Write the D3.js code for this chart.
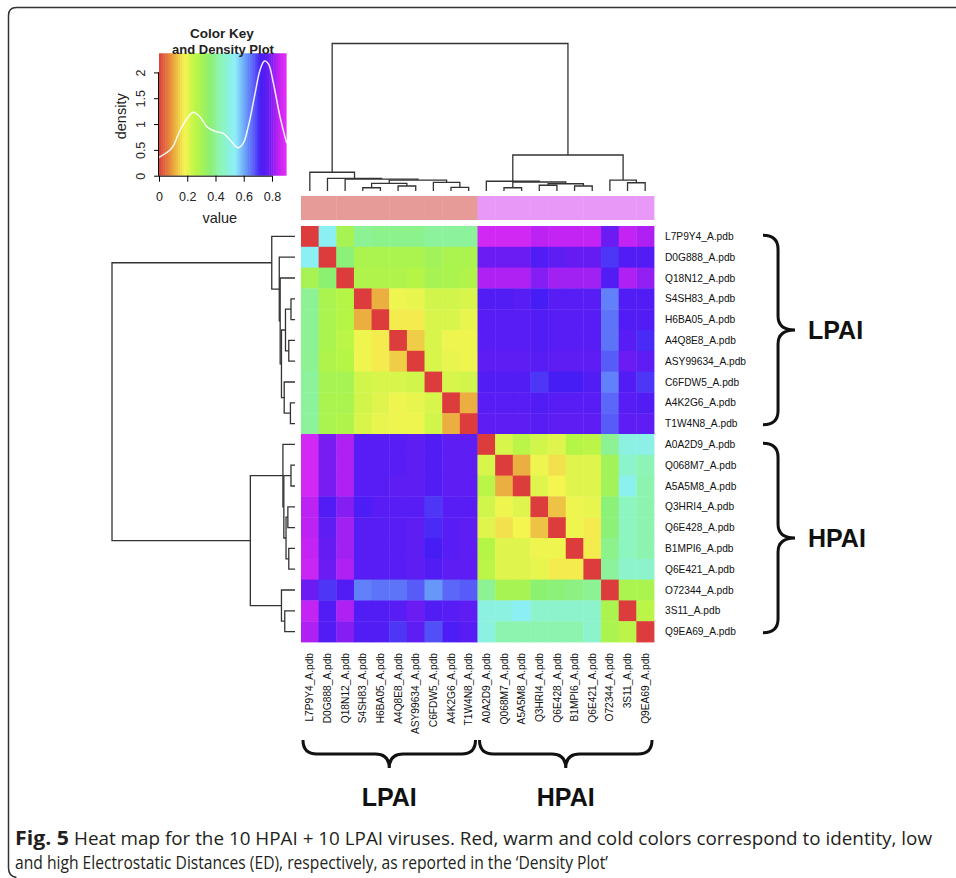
<!DOCTYPE html>
<html>
<head>
<meta charset="utf-8">
<script src="https://cdn.jsdelivr.net/npm/d3@7.9.0/dist/d3.min.js"></script>
<style>
  html, body { margin: 0; padding: 0; background: #fff; }
  svg { display: block; }
</style>
</head>
<body>
<svg id="chart" width="956" height="878" font-family="'Liberation Sans', Arial, Helvetica, sans-serif"></svg>
<script>
// ---- data ----
const lpai = ['L7P9Y4', 'D0G888', 'Q18N12', 'S4SH83', 'H6BA05', 'A4Q8E8', 'ASY99634', 'C6FDW5', 'A4K2G6', 'T1W4N8'];
const hpai = ['A0A2D9', 'Q068M7', 'A5A5M8', 'Q3HRI4', 'Q6E428', 'B1MPI6', 'Q6E421', 'O72344', '3S11', 'Q9EA69'];
const labels = [...lpai, ...hpai].map(d => d + '_A.pdb');
const groupOf = labels.map((d, i) => (i < lpai.length ? 'LPAI' : 'HPAI'));
const groupColors = { LPAI: '#e69b99', HPAI: '#e898f6' };

// electrostatic distance matrix (row order = column order = labels)
const ed = [
  [0, .53, .30, .40, .39, .39, .39, .41, .41, .41, .87, .87, .87, .84, .85, .85, .85, .78, .85, .83],
  [.53, 0, .37, .29, .29, .29, .29, .31, .29, .29, .78, .78, .78, .74, .76, .77, .77, .70, .74, .74],
  [.30, .36, 0, .28, .28, .28, .27, .30, .29, .28, .83, .83, .83, .80, .82, .82, .82, .74, .83, .81],
  [.40, .29, .27, 0, .11, .19, .20, .23, .23, .22, .74, .74, .75, .72, .75, .75, .75, .64, .74, .74],
  [.40, .29, .27, .11, 0, .17, .17, .22, .22, .20, .75, .75, .75, .74, .75, .75, .75, .65, .74, .74],
  [.40, .29, .26, .19, .17, 0, .14, .22, .19, .19, .75, .75, .75, .74, .75, .75, .75, .65, .75, .71],
  [.40, .28, .27, .19, .17, .14, 0, .22, .20, .19, .76, .76, .76, .75, .76, .76, .76, .67, .78, .76],
  [.41, .30, .30, .23, .22, .22, .23, 0, .22, .23, .74, .74, .74, .70, .72, .72, .74, .64, .74, .70],
  [.41, .29, .29, .23, .21, .19, .20, .22, 0, .11, .75, .75, .75, .74, .75, .75, .75, .66, .75, .74],
  [.41, .29, .28, .22, .20, .19, .19, .23, .11, 0, .76, .76, .76, .75, .76, .76, .76, .67, .76, .76],
  [.87, .79, .83, .75, .75, .75, .76, .74, .76, .76, 0, .22, .26, .23, .21, .27, .26, .40, .50, .51],
  [.87, .79, .83, .75, .75, .75, .76, .74, .76, .76, .22, 0, .11, .19, .16, .21, .21, .31, .47, .44],
  [.87, .79, .83, .75, .75, .76, .76, .74, .76, .76, .26, .11, 0, .21, .18, .21, .21, .31, .52, .43],
  [.84, .74, .80, .73, .75, .75, .75, .70, .75, .75, .23, .19, .21, 0, .13, .19, .20, .37, .45, .43],
  [.84, .76, .82, .75, .75, .75, .76, .71, .75, .76, .21, .16, .18, .13, 0, .19, .17, .37, .45, .43],
  [.85, .77, .82, .75, .75, .75, .76, .72, .75, .76, .27, .21, .21, .19, .19, 0, .17, .39, .45, .43],
  [.86, .78, .83, .75, .75, .75, .76, .74, .76, .76, .26, .21, .21, .20, .17, .17, 0, .41, .47, .47],
  [.78, .70, .74, .64, .65, .65, .67, .62, .66, .67, .40, .30, .30, .36, .37, .38, .40, 0, .29, .29],
  [.85, .74, .83, .74, .74, .75, .78, .74, .75, .76, .50, .50, .53, .47, .47, .47, .47, .29, 0, .26],
  [.83, .74, .80, .74, .74, .70, .76, .68, .73, .75, .50, .43, .43, .43, .43, .43, .47, .29, .26, 0]
];

// hclust-style merges: negative = leaf (1-based display index), positive = earlier merge; third = height
const merges = [
  [-4, -5, 0.022],
  [-12, -13, 0.022],
  [-9, -10, 0.025],
  [-6, -7, 0.034],
  [-16, -17, 0.034],
  [-14, -15, 0.039],
  [6, 5, 0.049],
  [1, 4, 0.052],
  [-19, -20, 0.056],
  [-8, 3, 0.059],
  [2, 7, 0.061],
  [-11, 11, 0.066],
  [8, 10, 0.074],
  [-18, 9, 0.074],
  [-3, 13, 0.081],
  [-2, 15, 0.086],
  [-1, 16, 0.127],
  [12, 14, 0.244],
  [17, 18, 1.0]
];

// colour key
const keyStops = [0, 0.09, 0.18, 0.27, 0.36, 0.45, 0.54, 0.63, 0.72, 0.78, 0.84, 0.9];
const keyColors = ['#dc3c3c', '#e89a3c', '#f5f550', '#b4f546', '#8cf070', '#8cf5c0', '#8ceefa', '#648cfa', '#461ef5', '#6a1cf2', '#bc22f2', '#e62ef5'];
const keyXTicks = [0, 0.2, 0.4, 0.6, 0.8];
const keyYTicks = [0, 0.5, 1, 1.5, 2];
const densityV = [0, 0.09, 0.149, 0.208, 0.243, 0.29, 0.338, 0.396, 0.455, 0.503, 0.56, 0.597, 0.632, 0.68, 0.715, 0.746, 0.774, 0.81, 0.857, 0.904];
const densityD = [0.356, 0.53, 0.88, 1.14, 1.23, 1.14, 0.95, 0.86, 0.82, 0.69, 0.54, 0.63, 0.95, 1.59, 2.04, 2.22, 2.17, 1.79, 1.14, 0.63];

const captionBold = 'Fig. 5';
const captionLine1 = 'Heat map for the 10 HPAI + 10 LPAI viruses. Red, warm and cold colors correspond to identity, low';
const captionLine2 = 'and high Electrostatic Distances (ED), respectively, as reported in the \u2018Density Plot\u2019';

// ---- drawing ----
const FONT = "'Liberation Sans', Arial, Helvetica, sans-serif";
const svg = d3.select('#chart');
const color = d3.scaleLinear().domain(keyStops).range(keyColors).interpolate(d3.interpolateRgb).clamp(true);

// figure frame
svg.append('path')
  .attr('d', 'M956,7.5 H16.5 Q8.5,7.5 8.5,15.5 V868 Q8.5,876 16.5,877.5')
  .attr('fill', 'none').attr('stroke', '#333').attr('stroke-width', 1.5);

const hm = { left: 301, right: 654, top: 226, bottom: 642 };
const x = d3.scaleBand().domain(labels).range([hm.left, hm.right]);
const y = d3.scaleBand().domain(labels).range([hm.top, hm.bottom]);

// cells
const cells = [];
ed.forEach((row, i) => row.forEach((v, j) => cells.push({ r: labels[i], c: labels[j], v })));
svg.append('g').selectAll('rect').data(cells).join('rect')
  .attr('x', d => x(d.c)).attr('y', d => y(d.r))
  .attr('width', x.bandwidth() + 0.4).attr('height', y.bandwidth() + 0.4)
  .attr('fill', d => color(d.v));

// column side colours
svg.append('g').selectAll('rect').data(labels).join('rect')
  .attr('x', d => x(d)).attr('y', 196).attr('width', x.bandwidth() + 0.4).attr('height', 24)
  .attr('fill', (d, i) => groupColors[groupOf[i]]);

// dendrograms
function layoutTree(pos) {
  const nodes = [];
  const get = k => (k < 0 ? { p: pos(-k - 1), h: 0 } : nodes[k - 1]);
  merges.forEach(([a, b, h]) => {
    const A = get(a), B = get(b);
    nodes.push({ p: (A.p + B.p) / 2, h, A, B });
  });
  return nodes;
}
const colH = d3.scaleLinear().domain([0, 1]).range([191, 43.5]);
const rowH = d3.scaleLinear().domain([0, 1]).range([295, 112]);
const colNodes = layoutTree(i => x(labels[i]) + x.bandwidth() / 2);
const rowNodes = layoutTree(i => y(labels[i]) + y.bandwidth() / 2);

svg.append('g').attr('fill', 'none').attr('stroke', '#333').attr('stroke-width', 1.3)
  .selectAll('path').data(colNodes).join('path')
  .attr('d', n => `M${n.A.p},${colH(n.A.h)} V${colH(n.h)} H${n.B.p} V${colH(n.B.h)}`);
svg.append('g').attr('fill', 'none').attr('stroke', '#333').attr('stroke-width', 1.3)
  .selectAll('path').data(rowNodes).join('path')
  .attr('d', n => `M${rowH(n.A.h)},${n.A.p} H${rowH(n.h)} V${n.B.p} H${rowH(n.B.h)}`);

// row labels
svg.append('g').selectAll('text').data(labels).join('text')
  .attr('x', 665).attr('y', d => y(d) + y.bandwidth() / 2).attr('dy', '0.35em')
  .attr('font-size', 10.2).attr('fill', '#111').text(d => d);
// column labels
svg.append('g').selectAll('text').data(labels).join('text')
  .attr('transform', d => `translate(${x(d) + x.bandwidth() / 2},653) rotate(-90)`)
  .attr('dy', '0.35em').attr('text-anchor', 'end')
  .attr('font-size', 10.2).attr('fill', '#111').text(d => d);

// braces
function vBrace(x0, y0, y1, depth) {
  const xs = x0 + depth * 0.47, xp = x0 + depth, ym = (y0 + y1) / 2, r = 14;
  return `M${x0},${y0} Q${xs},${y0} ${xs},${y0 + r} V${ym - r} Q${xs},${ym} ${xp},${ym}` +
    ` Q${xs},${ym} ${xs},${ym + r} V${y1 - r} Q${xs},${y1} ${x0},${y1}`;
}
function hBrace(yy, x0, x1, depth) {
  const ys = yy + depth * 0.5, yp = yy + depth, xm = (x0 + x1) / 2, r = 14;
  return `M${x0},${yy} Q${x0},${ys} ${x0 + r},${ys} H${xm - r} Q${xm},${ys} ${xm},${yp}` +
    ` Q${xm},${ys} ${xm + r},${ys} H${x1 - r} Q${x1},${ys} ${x1},${yy}`;
}
const groups = [
  { name: 'LPAI', first: labels[0], last: labels[lpai.length - 1] },
  { name: 'HPAI', first: labels[lpai.length], last: labels[labels.length - 1] }
];
const braceG = svg.append('g').attr('fill', 'none').attr('stroke', '#111').attr('stroke-width', 3);
groups.forEach(g => {
  const ya = y(g.first) + y.bandwidth() * 0.45, yb = y(g.last) + y.bandwidth() * 0.55;
  braceG.append('path').attr('d', vBrace(763, ya, yb, 32));
  const xa = x(g.first) + 2, xb = x(g.last) + x.bandwidth() - 2;
  braceG.append('path').attr('d', hBrace(740, xa, xb, 28));
  svg.append('text').attr('x', 808).attr('y', (ya + yb) / 2).attr('dy', '0.36em')
    .attr('font-size', 25).attr('font-weight', 'bold').attr('fill', '#111').text(g.name);
  svg.append('text').attr('x', (xa + xb) / 2).attr('y', 806)
    .attr('text-anchor', 'middle')
    .attr('font-size', 25).attr('font-weight', 'bold').attr('fill', '#111').text(g.name);
});

// colour key + density
const kx = d3.scaleLinear().domain([0, 0.9]).range([159, 286.1]);
const ky = d3.scaleLinear().domain([0, 2.37]).range([175.7, 53.3]);
const nBins = 60;
const bins = d3.range(nBins).map(i => (i / nBins) * 0.9);
svg.append('g').selectAll('rect').data(bins).join('rect')
  .attr('x', d => kx(d)).attr('y', ky(2.37))
  .attr('width', kx(0.9 / nBins) - kx(0) + 0.5).attr('height', ky(0) - ky(2.37))
  .attr('fill', d => color(d + 0.45 / nBins));

const dens = densityV.map((v, i) => [v, densityD[i]]);
svg.append('path').datum(dens)
  .attr('d', d3.line().x(d => kx(d[0])).y(d => ky(d[1])).curve(d3.curveCatmullRom))
  .attr('fill', 'none').attr('stroke', '#fff').attr('stroke-width', 1.5).attr('stroke-opacity', 0.9);

const xAx = svg.append('g').attr('transform', `translate(0,${ky(0)})`)
  .call(d3.axisBottom(kx).tickValues(keyXTicks).tickSize(6).tickPadding(10).tickFormat(d3.format('')));
xAx.attr('font-family', FONT).attr('font-size', 12.5);
xAx.select('.domain').attr('d', `M${kx(0)},0.5H${kx(0.8)}`);
xAx.selectAll('text').attr('fill', '#222');

const yAx = svg.append('g').attr('transform', `translate(${kx(0)},0)`)
  .call(d3.axisLeft(ky).tickValues(keyYTicks).tickSize(5).tickFormat(d3.format('')));
yAx.attr('font-family', FONT).attr('font-size', 12.5);
yAx.select('.domain').attr('d', `M-0.5,${ky(0)}V${ky(2)}`);
yAx.selectAll('.tick text')
  .attr('fill', '#222')
  .attr('x', 0).attr('y', 0).attr('dy', 0)
  .attr('text-anchor', 'middle')
  .attr('transform', 'translate(-14.5,0) rotate(-90)');

svg.append('text').attr('x', kx(0.43)).attr('y', 223).attr('text-anchor', 'middle')
  .attr('font-size', 14.5).attr('fill', '#222').text('value');
svg.append('text').attr('transform', `translate(121,${ky(1.15)}) rotate(-90)`)
  .attr('dy', '0.35em').attr('text-anchor', 'middle')
  .attr('font-size', 14.5).attr('fill', '#222').text('density');
svg.append('text').attr('x', 222).attr('y', 38).attr('text-anchor', 'middle')
  .attr('font-size', 13.5).attr('font-weight', 'bold').attr('fill', '#222').text('Color Key');
svg.append('text').attr('x', 223).attr('y', 53.5).attr('text-anchor', 'middle')
  .attr('font-size', 13).attr('font-weight', 'bold').attr('fill', '#222').text('and Density Plot');

// caption
const cap = svg.append('g').attr('font-family', '"Open Sans", "Noto Sans", sans-serif').attr('fill', '#231f20');
cap.append('text').attr('x', 15).attr('y', 845).attr('font-size', 19).attr('font-weight', 'bold')
  .attr('textLength', 54).attr('lengthAdjust', 'spacingAndGlyphs').text(captionBold);
cap.append('text').attr('x', 74).attr('y', 845).attr('font-size', 19)
  .attr('textLength', 858).attr('lengthAdjust', 'spacingAndGlyphs').text(captionLine1);
cap.append('text').attr('x', 15).attr('y', 869).attr('font-size', 19)
  .attr('textLength', 593).attr('lengthAdjust', 'spacingAndGlyphs').text(captionLine2);
</script>
</body>
</html>
